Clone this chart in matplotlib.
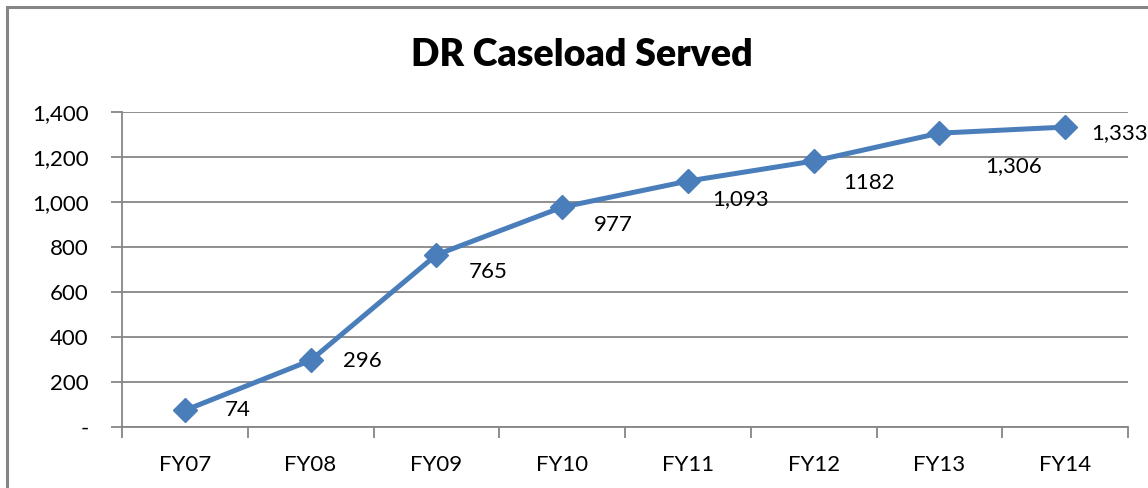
import matplotlib.pyplot as plt
from matplotlib.patches import Rectangle
from matplotlib.ticker import FuncFormatter

years = ['FY07', 'FY08', 'FY09', 'FY10', 'FY11', 'FY12', 'FY13', 'FY14']
caseload = [74, 296, 765, 977, 1093, 1182, 1306, 1333]
point_labels = ['74', '296', '765', '977', '1,093', '1182', '1,306', '1,333']

# label offsets in pixels (right, down) as placed in the original
label_dx = [53, 52, 52, 51, 53, 55, 74, 54]
label_dy = [0, 1, 17, 18, 18, 22, 33, 6]

W, H = 1148, 488
plt.rcParams['font.family'] = ['Lato', 'DejaVu Sans']
fig = plt.figure(figsize=(W / 100, H / 100), dpi=100)

# chart border
fig.patches.append(Rectangle((7 / W, -0.1), 1.2, (H - 7) / H + 0.1, transform=fig.transFigure,
                             fill=False, edgecolor='#868686', linewidth=2.2))

ax = fig.add_axes([122 / W, (H - 427) / H, (1128 - 122) / W, (427 - 112) / H])
x = list(range(len(years)))
ax.plot(x, caseload, color='#4A7EBB', linewidth=3.6, marker='D', markersize=12,
        markerfacecolor='#4A7EBB', markeredgecolor='#4A7EBB', zorder=3, clip_on=False)

for i, lab in enumerate(point_labels):
    ax.annotate(lab, (x[i], caseload[i]), xytext=(label_dx[i], -label_dy[i]),
                textcoords='offset pixels', ha='center', va='center', fontsize=16, color='black')

ax.set_xlim(-0.5, 7.5)
ax.set_ylim(0, 1400)
ax.set_yticks(range(0, 1401, 200))
ax.yaxis.set_major_formatter(FuncFormatter(lambda v, p: '-' if v == 0 else f'{int(v):,}'))
ax.set_xticks(x)
ax.set_xticklabels(years)
ax.set_xticks([i - 0.5 for i in range(len(years) + 1)], minor=True)
ax.grid(axis='y', color='#868686', linewidth=1.3)
ax.set_axisbelow(True)
ax.tick_params(axis='x', which='major', length=0, pad=20, labelsize=16)
ax.tick_params(axis='x', which='minor', length=8, width=1.3, color='#868686', direction='out')
ax.tick_params(axis='y', length=8, width=1.3, color='#868686', pad=16, labelsize=16)
for s in ['top', 'right']:
    ax.spines[s].set_visible(False)
for s in ['left', 'bottom']:
    ax.spines[s].set_color('#868686')
    ax.spines[s].set_linewidth(1.3)

fig.text(582 / W, 1 - 55 / H, 'DR Caseload Served', ha='center', va='center',
         fontsize=27, fontweight='heavy')

fig.savefig('out.png', dpi=100)
